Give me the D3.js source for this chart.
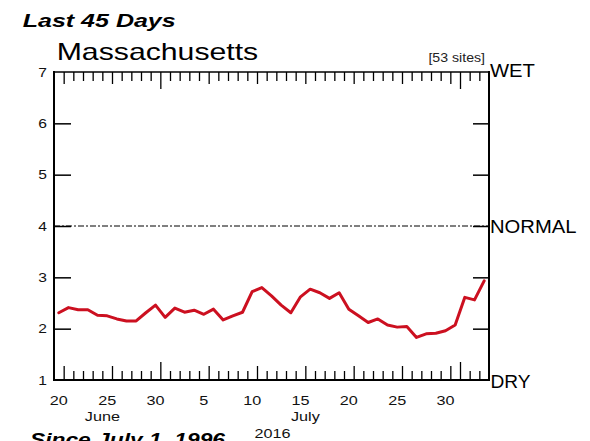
<!DOCTYPE html>
<html><head><meta charset="utf-8">
<script src="https://cdn.jsdelivr.net/npm/d3@7"></script>
<style>html,body{margin:0;padding:0;background:#fff;} svg{display:block;}</style>
</head><body>
<script>
// ---- data ----
const startDay = "2016-06-20";
const values = [2.31, 2.41, 2.37, 2.37, 2.26, 2.25, 2.19, 2.15, 2.15, 2.31,
                2.46, 2.22, 2.40, 2.32, 2.36, 2.28, 2.38, 2.17, 2.25, 2.32,
                2.72, 2.80, 2.64, 2.46, 2.31, 2.62, 2.77, 2.70, 2.59, 2.70,
                2.38, 2.25, 2.12, 2.19, 2.07, 2.03, 2.04, 1.83, 1.90, 1.91,
                1.96, 2.07, 2.61, 2.56, 2.93];
const dayLabelDates = ["2016-06-20","2016-06-25","2016-06-30","2016-07-05","2016-07-10",
                       "2016-07-15","2016-07-20","2016-07-25","2016-07-30"];
const dayLabels = ["20","25","30","5","10","15","20","25","30"];
const months = ["June","July"];
const monthSpans = [["2016-06-20","2016-06-30"],["2016-07-01","2016-07-31"]];
const yearLabel = "2016";
const yTicks = [1,2,3,4,5,6,7];
const normalValue = 4;
const title1 = "Last 45 Days";
const title2 = "Massachusetts";
const sitesLabel = "[53 sites]";
const sideLabels = ["WET","NORMAL","DRY"];
const footerText = "Since July 1, 1996";

// ---- setup ----
const W = 590, H = 441;
const L = 54, R = 489, T = 72, B = 380;
const FONT = "'Liberation Sans', Arial, Helvetica, sans-serif";
const SX = 1.2;
const DAY = 86400000;
const parse = s => new Date(s + "T00:00:00Z");
const t0 = parse(startDay);
const t1 = new Date(+t0 + values.length * DAY);

const x = d3.scaleUtc().domain([t0, t1]).range([L, R]);
const y = d3.scaleLinear().domain([1, 7]).range([B, T]);

const svg = d3.select("body").append("svg").attr("width", W).attr("height", H);
svg.append("rect").attr("width", W).attr("height", H).attr("fill", "#fff");

function txt(px, py, s, o) {
  return svg.append("text")
    .attr("transform", `translate(${px},${py}) scale(${o.sx || 1},1)`)
    .attr("text-anchor", o.anchor || "start")
    .style("font-family", FONT)
    .style("font-size", o.size + "px")
    .style("font-weight", o.weight || "normal")
    .style("font-style", o.style || "normal")
    .attr("fill", o.fill || "#000")
    .text(s);
}

// ---- x ticks (at day ends) ----
const tickDates = d3.range(1, values.length).map(i => new Date(+t0 + i * DAY));
const isTall = d => d.getUTCDate() === 1;
const dayOf = d => new Date(+d - DAY).getUTCDate();
const isMed = d => !isTall(d) && dayOf(d) % 5 === 0;
const groups = [
  {vals: tickDates.filter(d => !isTall(d) && !isMed(d)), bot: 9, top: 9},
  {vals: tickDates.filter(isMed), bot: 14, top: 12},
  {vals: tickDates.filter(isTall), bot: 18, top: 17}
];
groups.forEach(gp => {
  const gb = svg.append("g").attr("transform", `translate(0,${B})`)
    .call(d3.axisTop(x).tickValues(gp.vals).tickSize(gp.bot).tickFormat(""));
  gb.select(".domain").remove();
  gb.selectAll("line").attr("stroke", "#000").attr("stroke-width", 1.3);
  const gt = svg.append("g").attr("transform", `translate(0,${T})`)
    .call(d3.axisBottom(x).tickValues(gp.vals).tickSize(gp.top).tickFormat(""));
  gt.select(".domain").remove();
  gt.selectAll("line").attr("stroke", "#000").attr("stroke-width", 1.3);
});

// ---- y ticks ----
const inner = yTicks.slice(1, -1);
const gl = svg.append("g").attr("transform", `translate(${L},0)`)
  .call(d3.axisRight(y).tickValues(inner).tickSize(17).tickFormat(""));
gl.select(".domain").remove();
gl.selectAll("line").attr("stroke", "#000").attr("stroke-width", 1.5);
const gr = svg.append("g").attr("transform", `translate(${R},0)`)
  .call(d3.axisLeft(y).tickValues(inner).tickSize(16).tickFormat(""));
gr.select(".domain").remove();
gr.selectAll("line").attr("stroke", "#000").attr("stroke-width", 1.5);

yTicks.forEach(v => txt(47, y(v) + 4.8, String(v), {size: 13, anchor: "end", sx: SX, fill: "#111"}));

// ---- normal line ----
svg.append("line").attr("x1", L).attr("x2", R).attr("y1", y(normalValue)).attr("y2", y(normalValue))
  .attr("stroke", "#000").attr("stroke-width", 1).attr("stroke-dasharray", "6,2,2,2");

// ---- frame ----
svg.append("line").attr("x1", L).attr("x2", R).attr("y1", T).attr("y2", T).attr("stroke", "#000").attr("stroke-width", 1.5);
svg.append("line").attr("x1", L).attr("x2", R).attr("y1", B).attr("y2", B).attr("stroke", "#000").attr("stroke-width", 2);
svg.append("line").attr("x1", L).attr("x2", L).attr("y1", T - 1).attr("y2", B + 1).attr("stroke", "#000").attr("stroke-width", 2);
svg.append("line").attr("x1", R).attr("x2", R).attr("y1", T - 1).attr("y2", B + 1).attr("stroke", "#000").attr("stroke-width", 2);

// ---- data line ----
const pts = values.map((v, i) => ({t: new Date(+t0 + (i + 0.5) * DAY), v}));
svg.append("path").datum(pts)
  .attr("d", d3.line().x(d => x(d.t)).y(d => y(d.v)))
  .attr("fill", "none").attr("stroke", "#cc1020").attr("stroke-width", 3)
  .attr("stroke-linejoin", "round").attr("stroke-linecap", "round");

// ---- x labels ----
dayLabelDates.forEach((s, i) => {
  const cx = x(new Date(+parse(s) + DAY / 2));
  txt(cx, 405, dayLabels[i], {size: 13.5, anchor: "middle", sx: SX, fill: "#111"});
});
months.forEach((m, i) => {
  const a = parse(monthSpans[i][0]), b = parse(monthSpans[i][1]);
  txt((x(a) + x(b)) / 2, 421, m, {size: 13.5, anchor: "middle", sx: SX, fill: "#111"});
});
txt((L + R) / 2 + 1, 438, yearLabel, {size: 13.5, anchor: "middle", sx: SX, fill: "#111"});

// ---- titles ----
txt(22.7, 26.7, title1, {size: 19, weight: "bold", style: "italic"})
  .attr("textLength", 153).attr("lengthAdjust", "spacingAndGlyphs");
txt(56.7, 60, title2, {size: 24})
  .attr("textLength", 201.5).attr("lengthAdjust", "spacingAndGlyphs");
txt(485, 61.5, sitesLabel, {size: 12, anchor: "end", sx: 1.18, fill: "#222"});

// ---- side labels ----
txt(490, 77, sideLabels[0], {size: 18}).attr("textLength", 45).attr("lengthAdjust", "spacingAndGlyphs");
txt(490, y(normalValue) + 7, sideLabels[1], {size: 18}).attr("textLength", 86.5).attr("lengthAdjust", "spacingAndGlyphs");
txt(490.5, B + 8, sideLabels[2], {size: 18}).attr("textLength", 40).attr("lengthAdjust", "spacingAndGlyphs");

// ---- footer (cut off) ----
txt(30, 446, footerText, {size: 19, weight: "bold", style: "italic", sx: SX});
</script>
</body></html>
